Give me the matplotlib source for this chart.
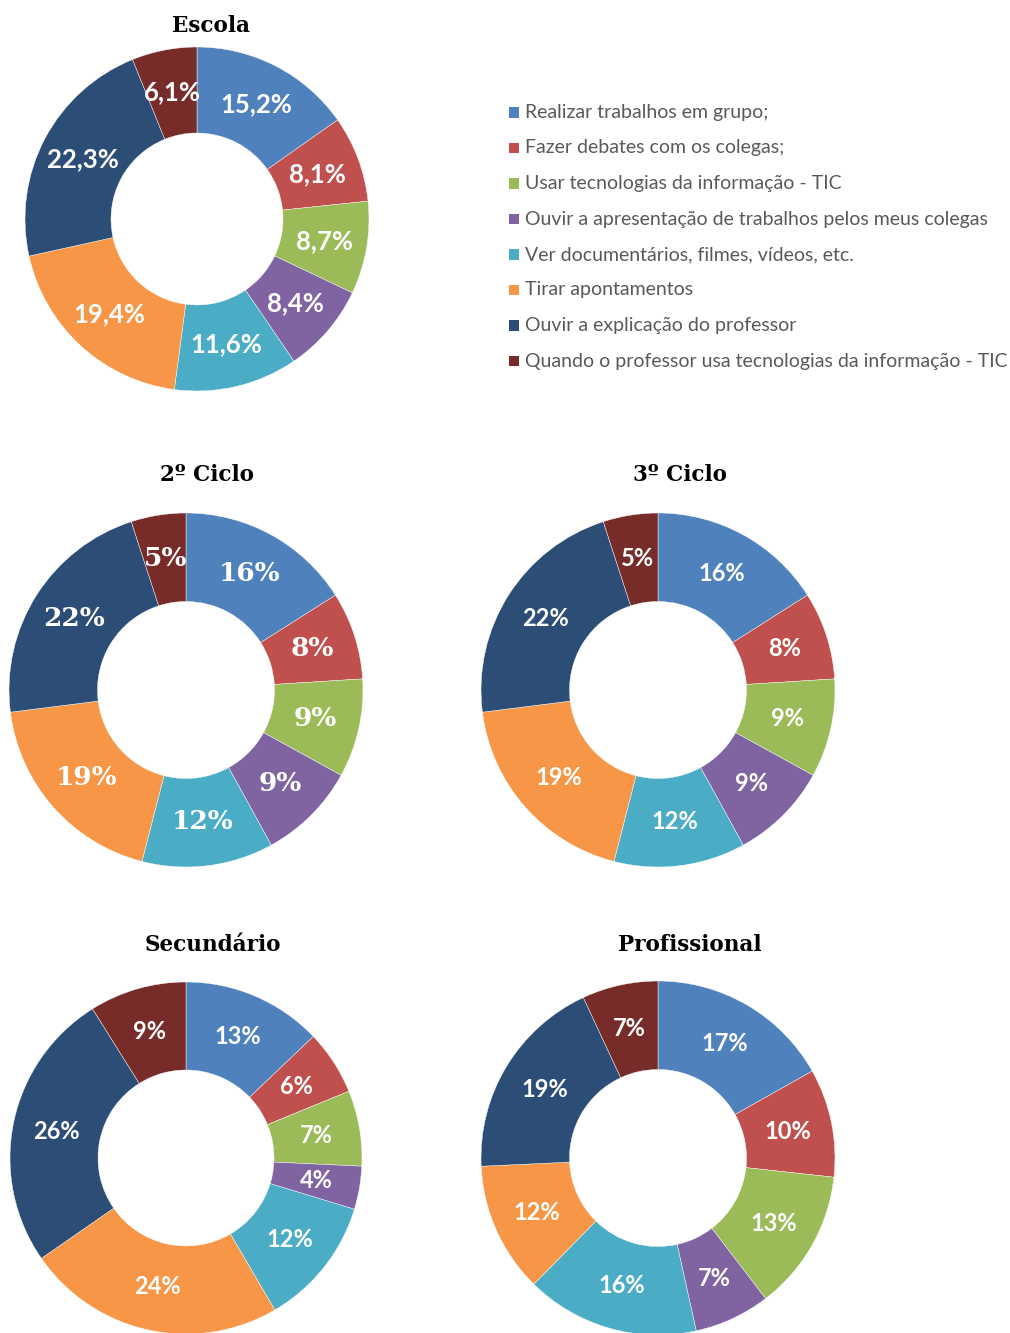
import numpy as np
import matplotlib
matplotlib.use("Agg")
import matplotlib.pyplot as plt
from matplotlib.patches import Rectangle

# legend categories (same order for every donut, clockwise from 12 o'clock)
categorias = [
    "Realizar trabalhos em grupo;",
    "Fazer debates com os colegas;",
    "Usar tecnologias da informação - TIC",
    "Ouvir a apresentação de trabalhos pelos meus colegas",
    "Ver documentários, filmes, vídeos, etc.",
    "Tirar apontamentos",
    "Ouvir a explicação do professor",
    "Quando o professor usa tecnologias da informação - TIC",
]
cores = ["#4F81BD", "#C0504D", "#9BBB59", "#8064A2",
         "#4BACC6", "#F79646", "#2C4D75", "#772C2A"]

# values (%)
escola = [15.2, 8.1, 8.7, 8.4, 11.6, 19.4, 22.3, 6.1]
ciclo2 = [16, 8, 9, 9, 12, 19, 22, 5]
ciclo3 = [16, 8, 9, 9, 12, 19, 22, 5]
secundario = [13, 6, 7, 4, 12, 24, 26, 9]
profissional = [17, 10, 13, 7, 16, 12, 19, 7]

W, H = 1010, 1333
fig = plt.figure(figsize=(W / 100, H / 100), dpi=100)
fig.patch.set_facecolor("white")


def donut(vals, cx, cy, r, fmt, family, size, title, tx, ty):
    #cx, cy, r in pixels (y measured from the top)
    ax = fig.add_axes([(cx - r) / W, (H - cy - r) / H, 2 * r / W, 2 * r / H])
    wedges, _ = ax.pie(vals, colors=cores, startangle=90, counterclock=False,
                       radius=1, wedgeprops=dict(width=0.5, edgecolor="white", linewidth=0.3))
    tot = float(sum(vals))
    ang = 90.0
    for v in vals:
        mid = ang - v / tot * 180.0
        ang -= v / tot * 360.0
        a = np.deg2rad(mid)
        ax.text(0.75 * np.cos(a), 0.75 * np.sin(a), fmt(v), ha="center", va="center",
                color="white", fontsize=size, fontweight="bold", family=family)
    ax.set_xlim(-1, 1)
    ax.set_ylim(-1, 1)
    ax.set_aspect("equal")
    ax.axis("off")
    fig.text(tx / W, 1 - ty / H, title, ha="center", va="center", fontsize=15.5,
             fontweight="bold", family="DejaVu Serif", color="black")


donut(escola, 197, 219, 172, lambda v: ("%.1f%%" % v).replace(".", ","), "Lato", 18.5,
      "Escola", 211, 26)
donut(ciclo2, 186, 690, 177, lambda v: "%d%%" % v, "DejaVu Serif", 19,
      "2º Ciclo", 207, 475)
donut(ciclo3, 658, 690, 177, lambda v: "%d%%" % v, "Lato", 17,
      "3º Ciclo", 680, 475)
donut(secundario, 186, 1158, 176, lambda v: "%d%%" % v, "Lato", 17,
      "Secundário", 213, 945)
donut(profissional, 658, 1158, 177, lambda v: "%d%%" % v, "Lato", 17,
      "Profissional", 690, 945)

# legend drawn by hand
y0 = 112.5
step = 35.5
for i, (lab, c) in enumerate(zip(categorias, cores)):
    y = y0 + i * step
    fig.patches.append(Rectangle(((509) / W, 1 - (y + 5) / H), 10 / W, 10 / H,
                                 transform=fig.transFigure, facecolor=c, edgecolor="none"))
    fig.text(525 / W, 1 - y / H, lab, ha="left", va="center", fontsize=14,
             family="Lato", color="#595959")

fig.savefig("out.png", dpi=100, facecolor="white")
